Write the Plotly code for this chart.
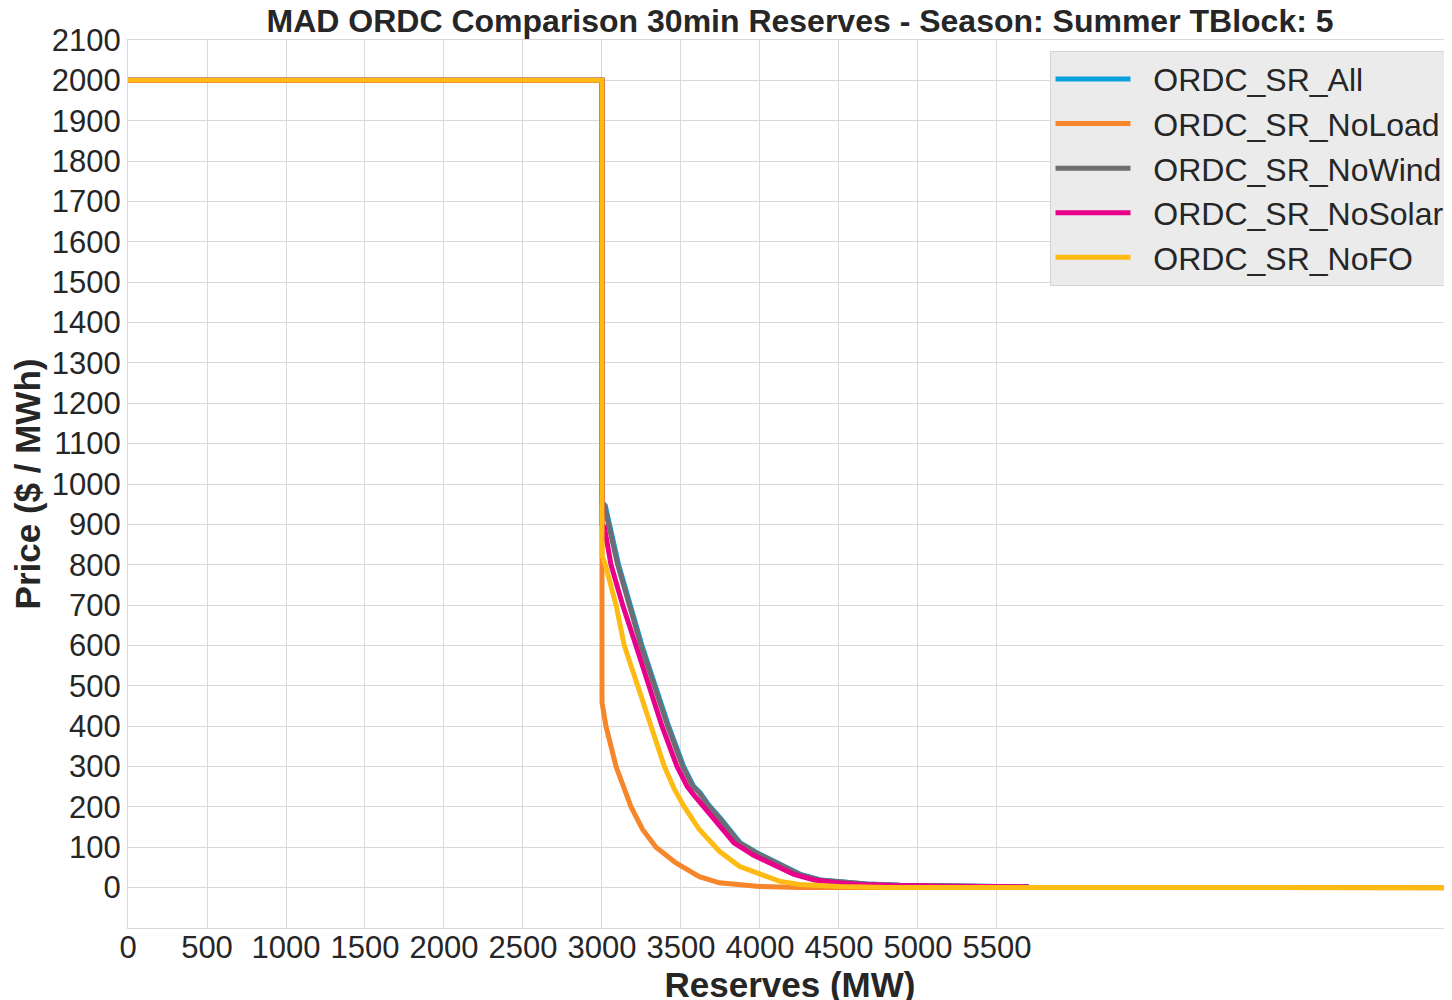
import plotly.graph_objects as go

# ORDC curves (Reserves MW -> Price $/MWh)
x_all = [0, 3000, 3000, 3021, 3105, 3175, 3253, 3337, 3422, 3517, 3580, 3622, 3675, 3749,
         3875, 4002, 4128, 4255, 4382, 4508, 4677, 4888, 5200, 5700]
y_all = [2000, 2000, 955, 946, 800, 700, 600, 500, 400, 300, 251, 235, 205, 172,
         111, 82, 58, 33, 19, 14, 9, 6, 4, 2]

x_noload = [0, 3000, 3000, 3025, 3089, 3184, 3257, 3342, 3468, 3574, 3616, 3743, 3869,
            3996, 4250, 8400]
y_noload = [2000, 2000, 459, 400, 300, 200, 144, 100, 61, 37, 27, 12, 6,
            3, 0.5, 0]

x_nowind = [0, 3000, 3000, 3015, 3099, 3169, 3247, 3331, 3416, 3511, 3574, 3616, 3669, 3743,
            3869, 3996, 4122, 4249, 4376, 4502, 4671, 4882, 5200, 5700]
y_nowind = [2000, 2000, 950, 946, 800, 700, 600, 500, 400, 300, 251, 235, 205, 172,
            111, 82, 58, 33, 19, 14, 9, 6, 4, 2]

x_nosolar = [0, 3000, 3000, 3015, 3057, 3131, 3215, 3295, 3380, 3475, 3540, 3585, 3710,
             3835, 3960, 4090, 4215, 4345, 4470, 4640, 4850, 5200, 5700]
y_nosolar = [2000, 2000, 900, 893, 800, 700, 600, 500, 400, 300, 250, 228, 168,
             111, 80, 56, 33, 19, 13, 8, 5, 3.5, 2]

x_nofo = [0, 3000, 3000, 3021, 3089, 3141, 3226, 3310, 3395, 3458, 3521, 3616, 3743,
          3869, 3996, 4122, 4249, 4502, 4800, 8400]
y_nofo = [2000, 2000, 823, 800, 700, 600, 500, 400, 300, 244, 200, 144, 90,
          53, 33, 16, 8, 3, 0.5, 0]

x_ticks = list(range(0, 6000, 500))
y_ticks = list(range(0, 2200, 100))

series = [
    ("ORDC_SR_All", x_all, y_all, "#0aa0dc"),
    ("ORDC_SR_NoLoad", x_noload, y_noload, "#f5862a"),
    ("ORDC_SR_NoWind", x_nowind, y_nowind, "#6d6e71"),
    ("ORDC_SR_NoSolar", x_nosolar, y_nosolar, "#e8008a"),
    ("ORDC_SR_NoFO", x_nofo, y_nofo, "#fdbb14"),
]

font_family = "Liberation Sans, Arial, sans-serif"
txt = "#262626"
pad = "\u00a0\u00a0"  # gap between legend line sample and label

fig = go.Figure()
for name, xs, ys, col in series:
    fig.add_trace(go.Scatter(x=xs, y=ys, mode="lines", name=pad + name,
                             line=dict(color=col, width=5)))

# page body has an 8px margin, so the figure is offset by 8px
fig.update_layout(
    width=1452, height=1000,
    margin=dict(l=120, r=8, t=32, b=80, autoexpand=False),
    paper_bgcolor="white", plot_bgcolor="white",
    font=dict(family=font_family, color=txt, size=31),
    title=dict(text="<b>MAD ORDC Comparison 30min Reserves - Season: Summer TBlock: 5</b>",
               x=0.5455, xref="container", xanchor="center",
               y=0.987, yref="container", yanchor="middle",
               font=dict(size=32, color=txt)),
    legend=dict(x=0.696, y=0.988, xanchor="left", yanchor="top",
                bgcolor="#ebebeb", bordercolor="#d4d4d4", borderwidth=1,
                font=dict(size=32, color=txt), itemwidth=75),
    showlegend=True,
)
fig.update_xaxes(
    range=[0, 8380], tickvals=x_ticks, ticktext=[str(v) for v in x_ticks],
    showgrid=True, gridcolor="#d9d9d9", gridwidth=1, zeroline=False,
    showline=True, linecolor="#d9d9d9", mirror=True,
    ticks="", tickfont=dict(size=31), ticklabelstandoff=-8,
    title=dict(text="<b>Reserves (MW)</b>", font=dict(size=35), standoff=2),
)
fig.update_yaxes(
    range=[-100, 2100], tickvals=y_ticks,
    showgrid=True, gridcolor="#d9d9d9", gridwidth=1, zeroline=False,
    showline=True, linecolor="#d9d9d9", mirror=True,
    ticks="", tickfont=dict(size=31),
    title=dict(text="<b>Price ($ / MWh)</b>", font=dict(size=35), standoff=4),
)

fig.write_html("out.html")
